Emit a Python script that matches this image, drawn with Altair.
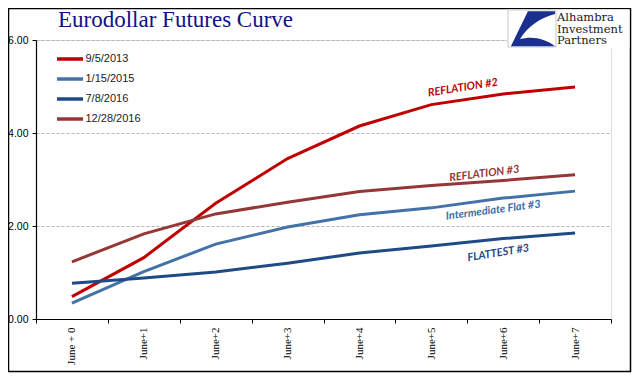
import altair as alt
import pandas as pd

# ---- data ----
contracts = ["June + 0", "June+1", "June+2", "June+3", "June+4", "June+5", "June+6", "June+7"]
series_names = ["9/5/2013", "1/15/2015", "7/8/2016", "12/28/2016"]
s_2013_09_05 = [0.48, 1.32, 2.49, 3.45, 4.15, 4.61, 4.84, 4.99]
s_2015_01_15 = [0.34, 1.02, 1.61, 1.98, 2.24, 2.39, 2.60, 2.75]
s_2016_07_08 = [0.77, 0.88, 1.01, 1.20, 1.42, 1.57, 1.73, 1.85]
s_2016_12_28 = [1.23, 1.83, 2.26, 2.51, 2.74, 2.87, 2.98, 3.10]
series_colors = ["#C00000", "#4472A8", "#1F4A86", "#953735"]
y_ticks = [0, 2, 4, 6]

ann_texts = ["REFLATION #2", "REFLATION #3", "Intermediate  Flat #3", "FLATTEST #3"]
ann_contract = ["June+5", "June+6", "June+6", "June+6"]
ann_values = [4.86, 3.17, 2.36, 1.43]
ann_dx = [32, -19, -10, -5]
ann_angle = [351, 353, 352.5, 351]
ann_colors = ["#C00000", "#953735", "#3F6CA6", "#1F4A86"]

title_text = "Eurodollar Futures Curve"
logo_lines = ["Alhambra", "Investment", "Partners"]

# ---- long table ----
all_series = [s_2013_09_05, s_2015_01_15, s_2016_07_08, s_2016_12_28]
rows = []
for name, vals in zip(series_names, all_series):
    for c, v in zip(contracts, vals):
        rows.append({"contract": c, "value": v, "series": name})
df = pd.DataFrame(rows)
legend_df = pd.DataFrame({"series": series_names})

W, H = 575, 279
one = alt.Data(values=[{"k": 0}])
color_scale = alt.Scale(domain=series_names, range=series_colors)

x_enc = alt.X("contract:N", sort=contracts,
              scale=alt.Scale(domain=contracts, paddingInner=0, paddingOuter=0),
              axis=alt.Axis(title=None, labelAngle=270, labelFont="Liberation Serif",
                            labelFontSize=11, labelColor="#000", tickBand="extent",
                            tickSize=4, labelPadding=4, domainColor="#000",
                            tickColor="#000", domainWidth=1.2, grid=False))
y_enc = alt.Y("value:Q", scale=alt.Scale(domain=[0, 6], nice=False),
              axis=alt.Axis(title=None, values=y_ticks, format=".2f",
                            labelFont="Liberation Sans", labelFontSize=10.5,
                            labelColor="#000", tickSize=4, labelPadding=4,
                            domainColor="#000", tickColor="#000", domainWidth=1.2,
                            grid=True, gridColor="#b5b5b5", gridDash=[3, 2],
                            gridWidth=1))

lines = alt.Chart(df).mark_line(strokeWidth=3).encode(
    x=x_enc,
    y=y_enc,
    color=alt.Color("series:N", sort=series_names, scale=color_scale, legend=None),
    order=alt.Order("series:N"),
)

ann_layers = []
for t, c, v, dx, ang, col in zip(ann_texts, ann_contract, ann_values, ann_dx, ann_angle, ann_colors):
    adf = pd.DataFrame({"contract": [c], "value": [v], "label": [t]})
    ann_layers.append(
        alt.Chart(adf).mark_text(font="Lato", fontSize=11, fontWeight="bold",
                                 fontStyle="italic", color=col, dx=dx, angle=ang,
                                 align="center", baseline="middle").encode(
            x=alt.X("contract:N", sort=contracts), y="value:Q", text="label:N")
    )

main = alt.layer(lines, *ann_layers)

# ---- legend drawn as marks with its own point scale ----
leg_y = alt.Y("series:N", sort=series_names,
              scale=alt.Scale(type="point", domain=series_names, range=[19, 79], padding=0),
              axis=None)
leg_rule = alt.Chart(legend_df).mark_rule(strokeWidth=3.5).encode(
    x=alt.value(21), x2=alt.value(47), y=leg_y,
    color=alt.Color("series:N", sort=series_names, scale=color_scale, legend=None))
leg_text = alt.Chart(legend_df).mark_text(font="Liberation Sans", fontSize=11, color="#222",
                                          align="left", baseline="middle").encode(
    x=alt.value(49.5), y=leg_y, text="series:N")
legend = alt.layer(leg_rule, leg_text)

frame = alt.Chart(one).mark_rect(fill=None, stroke="#000", strokeWidth=1.5).encode(
    x=alt.value(-27.5), x2=alt.value(W + 19.5), y=alt.value(-31.5), y2=alt.value(H + 52.5))

logo_bg = alt.Chart(one).mark_rect(fill="white", stroke=None).encode(
    x=alt.value(471), x2=alt.value(W + 18.5), y=alt.value(-30.5), y2=alt.value(8.5))
logo_box = alt.Chart(one).mark_rect(fill="white", stroke="#c8c8c8", strokeWidth=1).encode(
    x=alt.value(472), x2=alt.value(520), y=alt.value(-30), y2=alt.value(7))
swoosh_path = ("M -0.17,-0.72 L 0.96,-0.72 L 0.96,-0.6 C 0.3,-0.43 -0.2,-0.05 -0.5,0.45 "
               "C 0.0,0.3 0.55,0.42 0.96,0.74 L -0.88,0.74 Z")
logo_mark = alt.Chart(one).mark_point(shape=swoosh_path, filled=True, fill="#1B2F8F",
                                      stroke=None, size=2304, opacity=1).encode(
    x=alt.value(496), y=alt.value(-11.5))
logo_text = alt.Chart(one).mark_text(text=logo_lines, font="DejaVu Serif", fontSize=11.5,
                                     lineHeight=11.7, align="left", baseline="alphabetic",
                                     color="#1a1a1a").encode(
    x=alt.value(521), y=alt.value(-19))

title = alt.Chart(one).mark_text(text=title_text, font="Liberation Serif", fontSize=23,
                                 align="left", baseline="alphabetic", color="#10108A").encode(
    x=alt.value(22), y=alt.value(-13.5))

chart = alt.layer(frame, main, legend, logo_bg, logo_box, logo_mark, logo_text, title).resolve_scale(
    y="independent"
).properties(
    width=W, height=H,
    autosize=alt.AutoSizeParams(type="none"),
    padding={"left": 28, "top": 32, "right": 21, "bottom": 54},
).configure_view(stroke="#8c8c8c", strokeWidth=1).configure(background="white")

chart.save("out.html", embed_options={"renderer": "svg", "actions": False})
